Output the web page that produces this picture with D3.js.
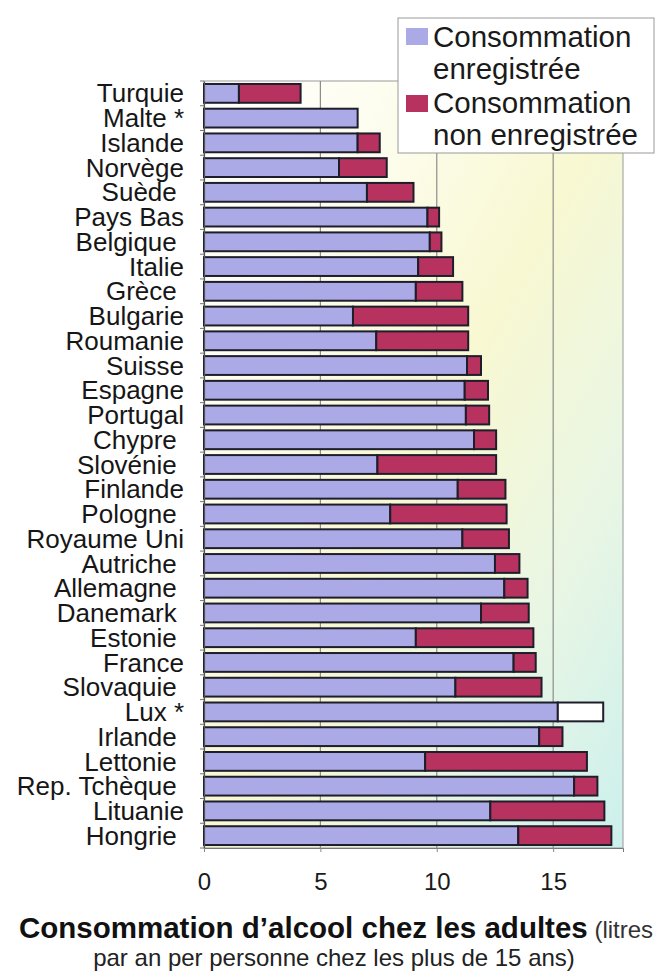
<!DOCTYPE html>
<html>
<head>
<meta charset="utf-8">
<script src="https://cdn.jsdelivr.net/npm/d3@7"></script>
<style>
  html, body { margin: 0; padding: 0; background: #fff; }
  svg text { font-family: "Liberation Sans", Arial, Helvetica, sans-serif; white-space: pre; }
</style>
</head>
<body>
<svg id="chart" width="659" height="974"></svg>
<script>
// Country labels, top to bottom (trailing spaces are part of the labels)
const countries = [
  "Turquie", "Malte *", "Islande", "Norvège", "Suède ", "Pays Bas", "Belgique ",
  "Italie", "Grèce ", "Bulgarie", "Roumanie", "Suisse", "Espagne", "Portugal",
  "Chypre ", "Slovénie ", "Finlande", "Pologne ", "Royaume Uni", "Autriche ",
  "Allemagne ", "Danemark ", "Estonie ", "France", "Slovaquie ", "Lux *",
  "Irlande ", "Lettonie ", "Rep. Tchèque ", "Lituanie", "Hongrie "
];

// Recorded consumption (litres of pure alcohol per adult per year)
const recorded = [
  1.5, 6.6, 6.6, 5.8, 7.0, 9.6, 9.7,
  9.2, 9.1, 6.4, 7.4, 11.3, 11.2, 11.25,
  11.6, 7.45, 10.9, 8.0, 11.1, 12.5,
  12.9, 11.9, 9.1, 13.3, 10.8, 15.2,
  14.4, 9.5, 15.9, 12.3, 13.5
];

// Unrecorded consumption
const unrecorded = [
  2.65, 0, 0.95, 2.05, 2.0, 0.5, 0.5,
  1.5, 2.0, 4.95, 3.95, 0.6, 1.0, 1.0,
  0.95, 5.1, 2.05, 5.0, 2.0, 1.05,
  1.0, 2.05, 5.05, 0.95, 3.7, 1.95,
  1.0, 6.95, 1.0, 4.9, 4.0
];

// Rows whose unrecorded share is shown unfilled
const unfilledRows = ["Lux *"];

const xTicks = [0, 5, 10, 15];
const xMax = 18;

const seriesNames = [["Consommation", "enregistrée"], ["Consommation", "non enregistrée"]];
const titleMain = "Consommation d’alcool chez les adultes";
const titleNote = " (litres";
const subtitle = "par an per personne chez les plus de 15 ans)";

const colors = { recorded: "#aca9e7", unrecorded: "#b7325f", outline: "#1e1e2a" };

const rows = countries.map((c, i) => ({ country: c, rec: recorded[i], unrec: unrecorded[i] }));

const svg = d3.select("#chart");
const plot = { left: 204, right: 623, top: 81, bottom: 848 };

const x = d3.scaleLinear().domain([0, xMax]).range([plot.left, plot.right]);
const y = d3.scaleBand().domain(countries).range([plot.top, plot.bottom])
  .paddingInner(0.24).paddingOuter(0.12);

// Background gradient of the plotting area
const defs = svg.append("defs");
const grad = defs.append("linearGradient").attr("id", "bg")
  .attr("x1", "0").attr("y1", "0").attr("x2", "1").attr("y2", "1");
grad.append("stop").attr("offset", "0").attr("stop-color", "#ffffff");
grad.append("stop").attr("offset", "0.25").attr("stop-color", "#fdfdee");
grad.append("stop").attr("offset", "0.5").attr("stop-color", "#f8f8d2");
grad.append("stop").attr("offset", "0.75").attr("stop-color", "#e9f6e4");
grad.append("stop").attr("offset", "1").attr("stop-color", "#cbf0ed");

svg.append("rect")
  .attr("x", plot.left).attr("y", plot.top)
  .attr("width", plot.right - plot.left).attr("height", plot.bottom - plot.top)
  .attr("fill", "url(#bg)").attr("stroke", "#9a9a9a").attr("stroke-width", 1);

// Vertical gridlines
svg.append("g").selectAll("line")
  .data(xTicks.filter(d => d > 0))
  .join("line")
  .attr("x1", d => x(d)).attr("x2", d => x(d))
  .attr("y1", plot.top).attr("y2", plot.bottom)
  .attr("stroke", "#8c8c8c").attr("stroke-width", 1.2);

// Stacked bars
const bars = svg.append("g");
bars.selectAll("rect.rec")
  .data(rows)
  .join("rect").attr("class", "rec")
  .attr("x", x(0)).attr("y", d => y(d.country))
  .attr("width", d => x(d.rec) - x(0)).attr("height", y.bandwidth())
  .attr("fill", colors.recorded)
  .attr("stroke", colors.outline).attr("stroke-width", 2);

bars.selectAll("rect.unrec")
  .data(rows.filter(d => d.unrec > 0))
  .join("rect").attr("class", "unrec")
  .attr("x", d => x(d.rec)).attr("y", d => y(d.country))
  .attr("width", d => x(d.rec + d.unrec) - x(d.rec)).attr("height", y.bandwidth())
  .attr("fill", d => unfilledRows.includes(d.country) ? "#ffffff" : colors.unrecorded)
  .attr("stroke", colors.outline).attr("stroke-width", 2);

// Category axis
const yAxis = svg.append("g")
  .attr("transform", `translate(${plot.left},0)`)
  .call(d3.axisLeft(y).tickSize(0).tickPadding(20));
yAxis.select(".domain").attr("stroke", "#555").attr("stroke-width", 1.2);
yAxis.selectAll("text")
  .attr("font-size", 26).attr("fill", "#161616")
  .attr("font-family", null).attr("dy", "0.35em");

// Small tick marks between categories
svg.append("g").selectAll("line")
  .data(d3.range(countries.length + 1))
  .join("line")
  .attr("x1", plot.left - 4).attr("x2", plot.left)
  .attr("y1", i => i === countries.length ? plot.bottom : y(countries[i]) - y.step() * y.paddingInner() / 2)
  .attr("y2", i => i === countries.length ? plot.bottom : y(countries[i]) - y.step() * y.paddingInner() / 2)
  .attr("stroke", "#777").attr("stroke-width", 1);

// Value axis
const xAxis = svg.append("g")
  .attr("transform", `translate(0,${plot.bottom})`)
  .call(d3.axisBottom(x).tickValues(xTicks).tickSize(4).tickPadding(21).tickFormat(d3.format("d")));
xAxis.select(".domain").attr("stroke", "#777");
xAxis.selectAll(".tick line").attr("stroke", "#888");
xAxis.selectAll("text").attr("font-size", 24).attr("fill", "#1a1a1a").attr("font-family", null);

// Legend
const legend = svg.append("g");
legend.append("rect")
  .attr("x", 398).attr("y", 18).attr("width", 256).attr("height", 135)
  .attr("fill", "#ffffff").attr("stroke", "#999").attr("stroke-width", 1);
const legendColors = [colors.recorded, colors.unrecorded];
seriesNames.forEach((lines, i) => {
  const top = 28 + i * 67;
  legend.append("rect")
    .attr("x", 406).attr("y", top).attr("width", 22).attr("height", 17)
    .attr("fill", legendColors[i]);
  lines.forEach((t, j) => {
    legend.append("text")
      .attr("x", 433).attr("y", 47 + i * 66 + j * 32)
      .attr("font-size", 29.5).attr("fill", "#1a1a1a")
      .text(t);
  });
});

// Axis title
const title = svg.append("text")
  .attr("x", 336).attr("y", 938).attr("text-anchor", "middle").attr("fill", "#111");
title.append("tspan").attr("font-weight", "bold").attr("font-size", 29.5).text(titleMain);
title.append("tspan").attr("font-size", 24).attr("fill", "#333").text(titleNote);

svg.append("text")
  .attr("x", 334).attr("y", 966).attr("text-anchor", "middle")
  .attr("font-size", 24).attr("fill", "#222")
  .text(subtitle);
</script>
</body>
</html>
